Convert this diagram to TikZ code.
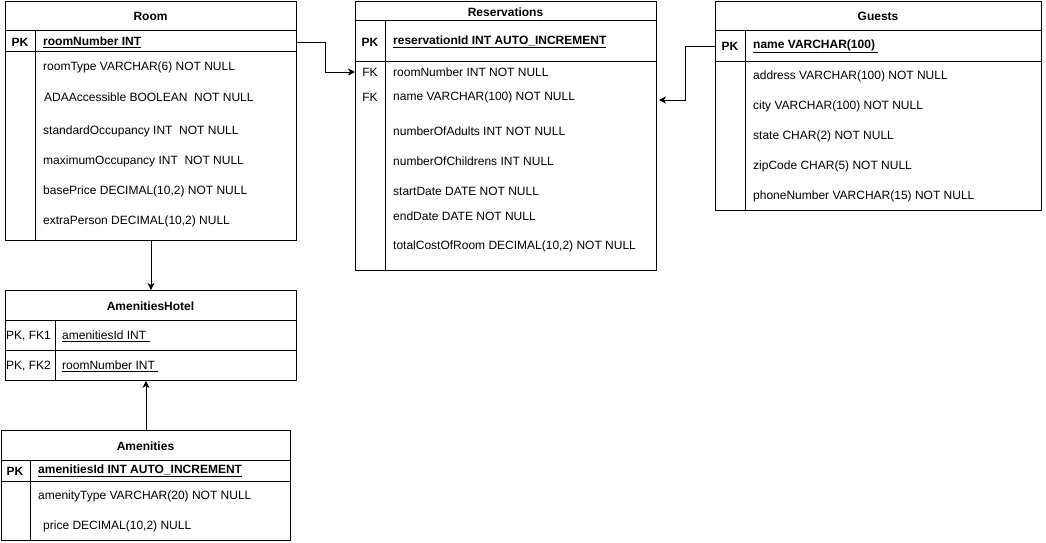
\documentclass[tikz,border=0pt]{standalone}
\usepackage{fontspec}
\setmainfont{Liberation Sans}
\usetikzlibrary{arrows.meta}
\begin{document}
\begin{tikzpicture}[x=1pt,y=-1pt,
  tbl/.style={draw, line width=0.9pt, anchor=north west, inner sep=0pt, fill=white},
  txt/.style={anchor=west, inner sep=0pt, yshift=-1pt, font=\fontsize{12}{14}\selectfont},
  ttl/.style={inner sep=0pt, yshift=-1pt, font=\fontsize{12}{14}\selectfont\bfseries},
  ln/.style={line width=0.9pt},
  conn/.style={line width=0.9pt, -{Stealth[length=7pt,width=7pt,inset=2pt]}}]
\useasboundingbox (0,0) rectangle (1046,542);
\fill[white] (0,0) rectangle (1046,542);

% ---------------- Room ----------------
\node[tbl, minimum width=291pt, minimum height=239pt] (room) at (5,1) {};
\draw[ln] (5,30) -- (296,30);
\draw[ln] (5,51) -- (296,51);
\draw[ln] (35,30) -- (35,240);
\node[ttl] (roomT) at (150.5,15) {Room};
\node[ttl] (roomPKl) at (20,41) {PK};
\node[txt, font=\fontsize{12}{14}\selectfont\bfseries] (roomPK) at (43,41) {\underline{roomNumber INT}};
\node[txt] (room1) at (43,66) {roomType VARCHAR(6) NOT NULL};
\node[txt] (room2) at (44,96) {ADAAccessible BOOLEAN\ \ NOT NULL};
\node[txt] (room3) at (43,130) {standardOccupancy INT\ \ NOT NULL};
\node[txt] (room4) at (43,160) {maximumOccupancy INT\ \ NOT NULL};
\node[txt] (room5) at (43,190) {basePrice DECIMAL(10,2) NOT NULL};
\node[txt] (room6) at (43,220) {extraPerson DECIMAL(10,2) NULL};

% ---------------- Reservations ----------------
\node[tbl, minimum width=301pt, minimum height=269pt] (res) at (355,1) {};
\draw[ln] (355,20) -- (656,20);
\draw[ln] (355,61) -- (656,61);
\draw[ln] (385,20) -- (385,270);
\node[ttl] (resT) at (505.5,11) {Reservations};
\node[ttl] (resPKl) at (370,41) {PK};
\node[txt, font=\fontsize{12}{14}\selectfont\bfseries] (resPK) at (393,41) {\underline{reservationId INT AUTO\_INCREMENT}};
\node[txt, anchor=center] (resFK1l) at (370,71) {FK};
\node[txt, anchor=center] (resFK2l) at (370,96) {FK};
\node[txt] (res1) at (393,71) {roomNumber INT NOT NULL};
\node[txt] (res2) at (393,96) {name VARCHAR(100) NOT NULL};
\node[txt] (res3) at (393,130) {numberOfAdults INT NOT NULL};
\node[txt] (res4) at (393,160) {numberOfChildrens INT NULL};
\node[txt] (res5) at (393,190) {startDate DATE NOT NULL};
\node[txt] (res6) at (393,215) {endDate DATE NOT NULL};
\node[txt] (res7) at (393,245) {totalCostOfRoom DECIMAL(10,2) NOT NULL};

% ---------------- Guests ----------------
\node[tbl, minimum width=326pt, minimum height=209pt] (guests) at (715,1) {};
\draw[ln] (715,30) -- (1041,30);
\draw[ln] (715,61) -- (1041,61);
\draw[ln] (745,30) -- (745,210);
\node[ttl] (guestsT) at (878,15) {Guests};
\node[ttl] (gPKl) at (730,45) {PK};
\node[txt, font=\fontsize{12}{14}\selectfont\bfseries] (gPK) at (753,45) {\underline{name VARCHAR(100)\ }};
\node[txt] (g1) at (753,75) {address VARCHAR(100) NOT NULL};
\node[txt] (g2) at (753,105) {city VARCHAR(100) NOT NULL};
\node[txt] (g3) at (753,135) {state CHAR(2) NOT NULL};
\node[txt] (g4) at (753,165) {zipCode CHAR(5) NOT NULL};
\node[txt] (g5) at (753,195) {phoneNumber VARCHAR(15) NOT NULL};

% ---------------- AmenitiesHotel ----------------
\node[tbl, minimum width=291pt, minimum height=90pt] (ah) at (5,290) {};
\draw[ln] (5,320) -- (296,320);
\draw[ln] (5,350) -- (296,350);
\draw[ln] (55,320) -- (55,380);
\node[ttl] (ahT) at (150.5,305) {AmenitiesHotel};
\node[txt] (ahK1) at (6,335) {PK, FK1};
\node[txt] (ahK2) at (6,365) {PK, FK2};
\node[txt] (ah1) at (62,335) {\underline{amenitiesId INT\ }};
\node[txt] (ah2) at (62,365) {\underline{roomNumber INT\ }};

% ---------------- Amenities ----------------
\node[tbl, minimum width=289pt, minimum height=110pt] (am) at (1,430) {};
\draw[ln] (1,460) -- (290,460);
\draw[ln] (1,481) -- (290,481);
\draw[ln] (30,460) -- (30,540);
\node[ttl] (amT) at (145.5,445) {Amenities};
\node[ttl] (amPKl) at (15,470) {PK};
\node[txt, font=\fontsize{12}{14}\selectfont\bfseries] (amPK) at (38,470) {\underline{amenitiesId INT AUTO\_INCREMENT}};
\node[txt] (am1) at (38,495) {amenityType VARCHAR(20) NOT NULL};
\node[txt] (am2) at (43,525) {price DECIMAL(10,2) NULL};

% ---------------- Connectors ----------------
\coordinate (gEnd) at (659,100);
\draw[conn] (room.east |- roomPK) -- ++(29,0) |- (res.west |- res1);
\draw[conn] (guests.west |- gPK) -- ++(-30,0) |- (gEnd);
\draw[conn] (room.south) -- (ah.north);
\draw[conn] (am.north) -- (am.north |- ah.south);
\end{tikzpicture}
\end{document}
